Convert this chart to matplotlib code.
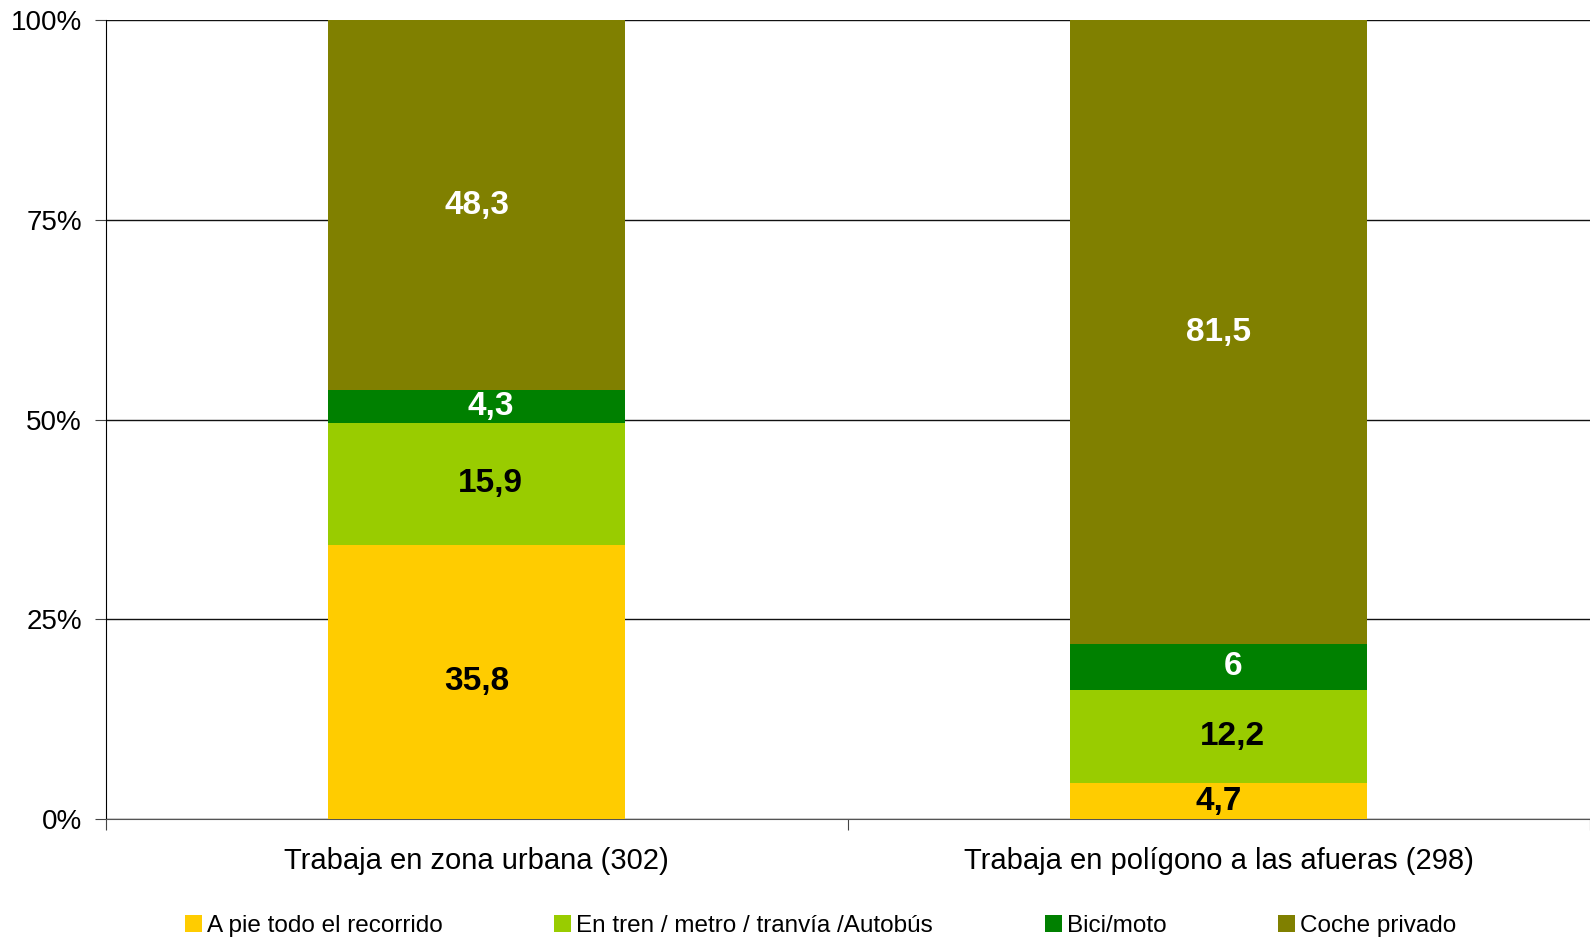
import matplotlib

matplotlib.use("Agg")
import matplotlib.pyplot as plt  # noqa: E402
import numpy as np  # noqa: E402
from matplotlib.patches import Patch  # noqa: E402

plt.rcParams["font.family"] = ["Liberation Sans", "DejaVu Sans"]

categories = ["Trabaja en zona urbana (302)", "Trabaja en polígono a las afueras (298)"]
series = ["A pie todo el recorrido", "En tren / metro / tranvía /Autobús", "Bici/moto", "Coche privado"]
a_pie = [35.8, 4.7]
tren = [15.9, 12.2]
bici = [4.3, 6.0]
coche = [48.3, 81.5]
value_labels = [["35,8", "4,7"], ["15,9", "12,2"], ["4,3", "6"], ["48,3", "81,5"]]

colors = ["#FFCC00", "#99CC00", "#008000", "#808000"]
label_colors = ["black", "black", "white", "white"]
label_dx = [0, 10, 10, 0]  # excel nudges some labels to the right

data = np.array([a_pie, tren, bici, coche])
pct = data / data.sum(axis=0) * 100

fig = plt.figure(figsize=(15.9, 9.43), dpi=100)
ax = fig.add_axes([0.0664, 0.1315, 0.9336, 0.847])

x = np.arange(len(categories))
bottom = np.zeros(len(categories))
for i, name in enumerate(series):
    ax.bar(x, pct[i], 0.4, bottom=bottom, color=colors[i], label=name, zorder=3)
    for j in range(len(categories)):
        ax.annotate(
            value_labels[i][j],
            (x[j], bottom[j] + pct[i][j] / 2),
            xytext=(label_dx[i], 0),
            textcoords="offset points",
            ha="center",
            va="center",
            fontsize=24,
            fontweight="bold",
            color=label_colors[i],
            zorder=4,
        )
    bottom += pct[i]

ax.set_xlim(-0.5, 1.5)
ax.set_ylim(0, 100)
ax.set_yticks([0, 25, 50, 75, 100])
ax.set_yticklabels(["0%", "25%", "50%", "75%", "100%"], fontsize=20)
ax.yaxis.grid(True, color="#111111", linewidth=1)
ax.set_axisbelow(True)

ax.set_xticks([-0.5, 0.5, 1.5])
ax.set_xticklabels([])
ax.set_xticks(x, minor=True)
ax.set_xticklabels(categories, minor=True, fontsize=21)
ax.tick_params(axis="x", which="minor", length=0, pad=20)
ax.tick_params(axis="x", which="major", length=8, color="#444444")
ax.tick_params(axis="y", length=8, pad=9, color="#444444")

for s in ["top", "right"]:
    ax.spines[s].set_visible(False)
ax.spines["left"].set_color("black")
ax.spines["bottom"].set_color("#555555")

handles = [Patch(facecolor=c) for c in colors]
fig.legend(
    handles,
    series,
    loc="center",
    bbox_to_anchor=(0.516, 0.018),
    ncol=4,
    frameon=False,
    fontsize=17.5,
    handlelength=0.7,
    handleheight=0.7,
    handletextpad=0.2,
    columnspacing=4.6,
)

fig.savefig("out.png", dpi=100)
